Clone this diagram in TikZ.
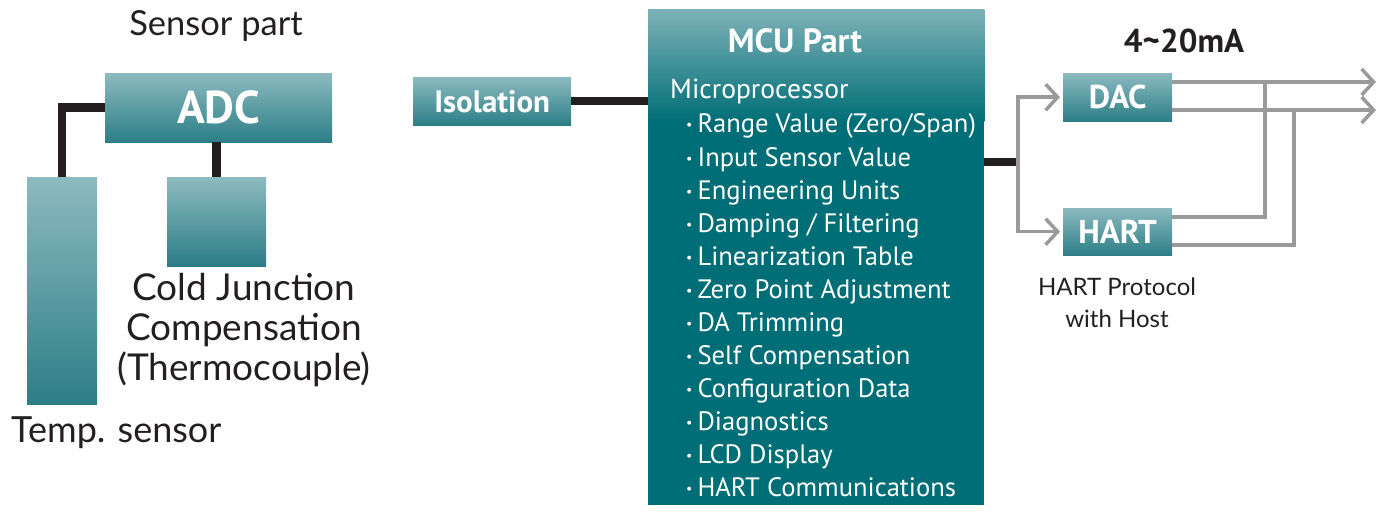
\documentclass[tikz,border=0pt]{standalone}
\usepackage{fontspec}
\setmainfont{Lato}
\newfontfamily\mf{PT Sans}
\usetikzlibrary{arrows.meta}
\definecolor{boxtop}{HTML}{8CBAC0}
\definecolor{boxbot}{HTML}{2C7E86}
\definecolor{mcudark}{HTML}{006E76}
\definecolor{mcutop}{HTML}{7DB1B7}
\definecolor{blk}{HTML}{231F20}
\definecolor{gry}{HTML}{9A9A9A}
\newcommand\bul{\raisebox{3pt}{\fontsize{14}{14}\selectfont\textbullet}\hspace{5pt}}
\begin{document}
\begin{tikzpicture}[x=1pt,y=-1pt,
  tbox/.style={inner sep=0pt, anchor=north west, top color=boxtop, bottom color=boxbot, text=white, font=\mf\bfseries},
  bline/.style={draw=blk, line width=8.5pt},
  gline/.style={draw=gry, line width=3.5pt},
  garrow/.style={gline, -{Straight Barb[length=12pt,width=26pt]}},
  lbl/.style={inner sep=0pt, text=blk},
  itemtxt/.style={inner sep=0pt, anchor=base west, text=white, font=\mf\fontsize{26.6}{26.6}\selectfont}]
\useasboundingbox (0,0) rectangle (1389,524);
% sensor part
\node[lbl, anchor=base, font=\fontsize{34.5}{34.5}\selectfont] (sp) at (216,36) {Sensor part};
\node[tbox, minimum width=227pt, minimum height=69pt, font=\mf\bfseries\fontsize{46}{46}\selectfont] (adc) at (105,73) {ADC};
\node[tbox, minimum width=70pt, minimum height=227pt] (temp) at (27,177) {};
\node[tbox, minimum width=99pt, minimum height=89pt] (cj) at (167,177) {};
\node[lbl, anchor=base, font=\fontsize{37}{40}\selectfont, align=center] (cjt) at (244,380) {Cold Junction\\Compensation\\(Thermocouple)};
\node[lbl, anchor=base west, font=\fontsize{36}{36}\selectfont] (tst) at (11,442) {Temp. sensor};
\draw[bline] (adc.west) -| (temp.north);
\draw[bline] (adc.south -| cj.north) -- (cj.north);
% isolation
\node[tbox, minimum width=158pt, minimum height=48pt, font=\mf\bfseries\fontsize{31}{31}\selectfont] (iso) at (413,77) {Isolation};
% MCU
\node[inner sep=0pt, anchor=north west, minimum width=336pt, minimum height=495pt, fill=mcudark] (mcu) at (648,10) {};
\shade[top color=mcutop, bottom color=mcudark] (mcu.north west) rectangle ([yshift=-112pt]mcu.north east);
\draw[bline] (iso.east) -- (iso.east -| mcu.west);
\node[itemtxt, anchor=base, font=\mf\bfseries\fontsize{33.5}{33.5}\selectfont] (mcut) at (795,53) {MCU Part};
\node[itemtxt, font=\mf\fontsize{27.6}{27.6}\selectfont] (micro) at (670,99) {Microprocessor};
\foreach \t [count=\i] in {Range Value (Zero/Span), Input Sensor Value, Engineering Units, Damping / Filtering, Linearization Table, Zero Point Adjustment, DA Trimming, Self Compensation, Configuration Data, Diagnostics, LCD Display, HART Communications}
  \node[itemtxt] (it\i) at (686,{133+33*(\i-1)}) {\bul\t};
% output part
\node[lbl, anchor=base, font=\mf\bfseries\fontsize{33}{33}\selectfont] (ma) at (1184,53) {4\textasciitilde20mA};
\node[tbox, minimum width=109pt, minimum height=48pt, font=\mf\bfseries\fontsize{33}{33}\selectfont] (dac) at (1063,73) {DAC};
\node[tbox, minimum width=109pt, minimum height=47pt, font=\mf\bfseries\fontsize{33}{33}\selectfont] (hart) at (1063,208) {HART};
\node[lbl, anchor=base, font=\fontsize{24}{32}\selectfont, align=center] (hp) at (1117,327) {HART Protocol\\with Host};
\coordinate (split) at (1018,162);
\coordinate (o1) at (1376,82);
\coordinate (o2) at (1376,110);
\draw[bline] (mcu.east |- split) -- ([xshift=1pt]split);
\draw[garrow] (split) |- ([xshift=-3pt]dac.west);
\draw[garrow] (split) |- ([xshift=-3pt]hart.west);
\draw[garrow] (dac.east |- o1) -- (o1);
\draw[garrow] (dac.east |- o2) -- (o2);
\draw[gline] (hart.east |- 0,217) -| (1265,82);
\draw[gline] (hart.east |- 0,245) -| (1294,110);
\end{tikzpicture}
\end{document}
